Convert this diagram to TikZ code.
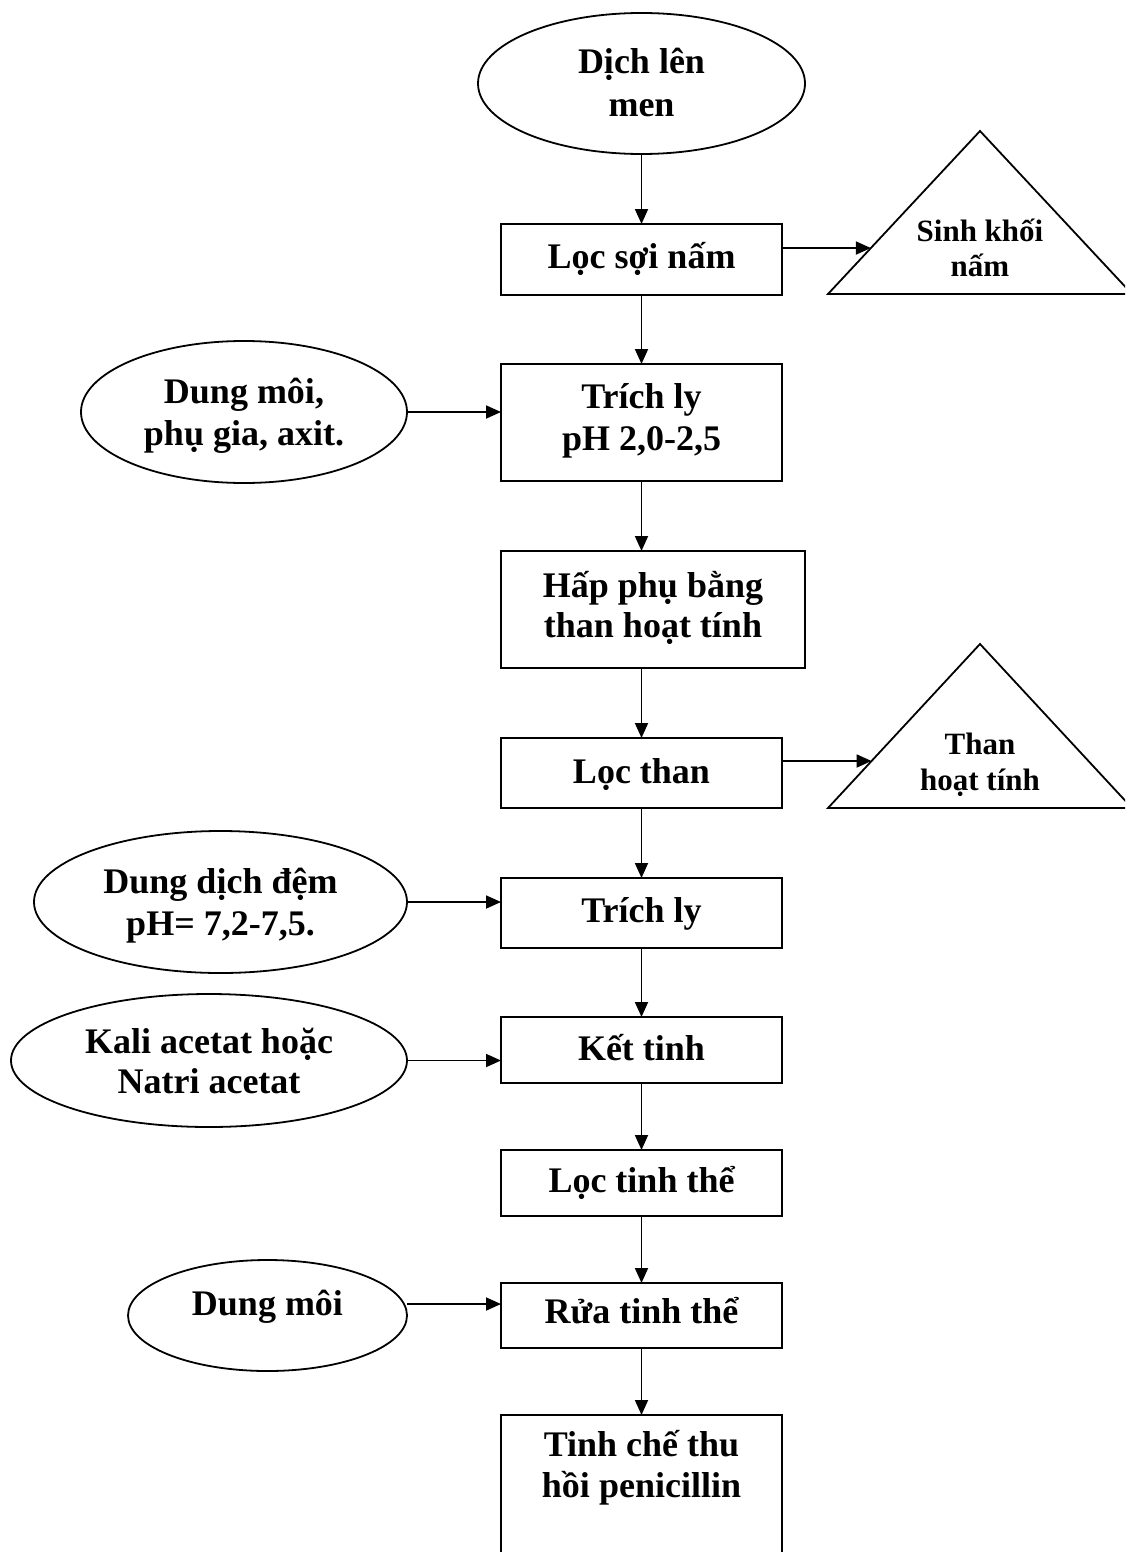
\documentclass[tikz,border=0pt]{standalone}
\usepackage{fontspec}
\setmainfont{Liberation Serif}
\usetikzlibrary{arrows.meta,shapes.geometric,calc}
\begin{document}
\begin{tikzpicture}[x=1pt,y=-1pt,
  every node/.style={inner sep=0pt, outer sep=0pt},
  stepbox/.style={draw, line width=2pt, rectangle, minimum width=281pt},
  feed/.style={draw, line width=1.8pt, ellipse},
  outlet/.style={draw, line width=1.8pt, line join=miter},
  lbl/.style={font=\fontsize{36}{42}\selectfont\bfseries, anchor=base},
  slbl/.style={font=\fontsize{31}{35}\selectfont\bfseries, anchor=base},
  arr/.style={line width=1.8pt, -{Triangle[length=15pt,width=13pt]}}]

\useasboundingbox (0,0) rectangle (1125,1552);
\fill[white] (0,0) rectangle (1125,1552);
\clip (0,0) rectangle (1125,1552);

% --- inputs (ellipses)
\node[feed, minimum width=327pt, minimum height=141pt] (e1) at (641.5,83.5) {};
\node[feed, minimum width=326pt, minimum height=142pt] (e2) at (244,412) {};
\node[feed, minimum width=373pt, minimum height=142pt] (e3) at (220.5,902) {};
\node[feed, minimum width=396pt, minimum height=133pt] (e4) at (209,1060.5) {};
\node[feed, minimum width=279pt, minimum height=111pt] (e5) at (267.5,1315.5) {};

% --- process steps
\node[stepbox, minimum height=71pt] (b1) at (641.5,259.5) {};
\node[stepbox, minimum height=117pt] (b2) at (641.5,422.5) {};
\node[stepbox, minimum width=304pt, minimum height=117pt] (b3) at (653,609.5) {};
\node[stepbox, minimum height=70pt] (b4) at (641.5,773) {};
\node[stepbox, minimum height=70pt] (b5) at (641.5,913) {};
\node[stepbox, minimum height=66pt] (b6) at (641.5,1050) {};
\node[stepbox, minimum height=66pt] (b7) at (641.5,1183) {};
\node[stepbox, minimum height=65pt] (b8) at (641.5,1315.5) {};
\node[stepbox, minimum height=150pt] (b9) at (641.5,1490) {};

% --- by-products (triangles)
\coordinate (s1l) at (828,294);
\coordinate (s1a) at (980,131);
\coordinate (s1r) at (1132,294);
\draw[outlet] (s1l) -- (s1a) -- (s1r) -- cycle;
\coordinate (s1in) at ($(s1l)!0.282!(s1a)$);

\coordinate (s2l) at (828,808);
\coordinate (s2a) at (980,644);
\coordinate (s2r) at (1132,808);
\draw[outlet] (s2l) -- (s2a) -- (s2r) -- cycle;
\coordinate (s2in) at ($(s2l)!0.2866!(s2a)$);

% --- labels
\node[lbl] (t1a) at (641.5,74) {Dịch lên};
\node[lbl] (t1b) at (641.5,117) {men};
\node[lbl] (tb1) at (641.5,268) {Lọc sợi nấm};
\node[slbl] (ts1a) at (980,241) {Sinh khối};
\node[slbl] (ts1b) at (980,276) {nấm};
\node[lbl] (t2a) at (244,403) {Dung môi,};
\node[lbl] (t2b) at (244,445) {phụ gia, axit.};
\node[lbl] (tb2a) at (641.5,408) {Trích ly};
\node[lbl] (tb2b) at (641.5,450) {pH 2,0-2,5};
\node[lbl] (tb3a) at (653,597) {Hấp phụ bằng};
\node[lbl] (tb3b) at (653,637) {than hoạt tính};
\node[lbl] (tb4) at (641.5,783) {Lọc than};
\node[slbl] (ts2a) at (980,754) {Than};
\node[slbl] (ts2b) at (980,790) {hoạt tính};
\node[lbl] (t3a) at (220.5,893) {Dung dịch đệm};
\node[lbl] (t3b) at (220.5,935) {pH= 7,2-7,5.};
\node[lbl] (tb5) at (641.5,922) {Trích ly};
\node[lbl] (t4a) at (209,1053) {Kali acetat hoặc};
\node[lbl] (t4b) at (209,1093) {Natri acetat};
\node[lbl] (tb6) at (641.5,1060) {Kết tinh};
\node[lbl] (tb7) at (641.5,1192) {Lọc tinh thể};
\node[lbl] (t5) at (267.5,1315) {Dung môi};
\node[lbl] (tb8) at (641.5,1323) {Rửa tinh thể};
\node[lbl] (tb9a) at (641.5,1456) {Tinh chế thu};
\node[lbl] (tb9b) at (641.5,1497) {hồi penicillin};

% --- main flow
\draw[arr] (e1.south) -- (b1.north);
\draw[arr] (b1.south) -- (b2.north);
\draw[arr] (b2.south) -- (b2.south |- b3.north);
\draw[arr] (b4.north |- b3.south) -- (b4.north);
\draw[arr] (b4.south) -- (b5.north);
\draw[arr] (b5.south) -- (b6.north);
\draw[arr] (b6.south) -- (b7.north);
\draw[arr] (b7.south) -- (b8.north);
\draw[arr] (b8.south) -- (b9.north);

% --- side streams
\draw[arr] (b1.east |- s1in) -- (s1in);
\draw[arr] (b4.east |- s2in) -- (s2in);
\draw[arr] (e2.east) -- (e2.east -| b2.west);
\draw[arr] (e3.east) -- (e3.east -| b5.west);
\draw[arr] (e4.east) -- (e4.east -| b6.west);
\draw[arr] ([yshift=11.5pt]e5.east) -- ([yshift=11.5pt]e5.east -| b8.west);
\end{tikzpicture}
\end{document}
